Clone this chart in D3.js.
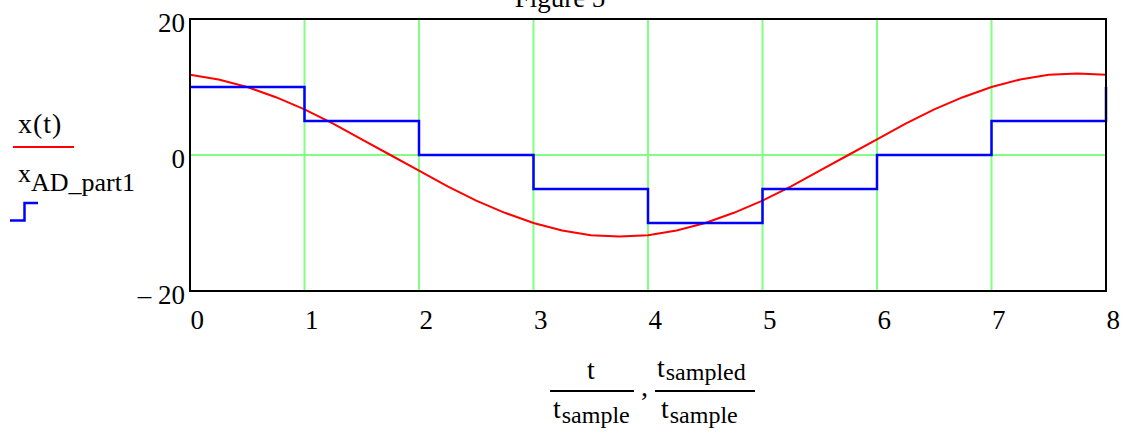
<!DOCTYPE html>
<html>
<head>
<meta charset="utf-8">
<script src="https://cdn.jsdelivr.net/npm/d3@7"></script>
<style>
	body { margin: 0; background: #fff; }
	svg { display: block; font-family: "Liberation Serif", "Times New Roman", serif; }
	.tick line { display: none; }
</style>
</head>
<body>
<div id="chart"></div>
<script>
// continuous signal x(t), every quarter sample
var tValues = [0, 0.25, 0.5, 0.75, 1, 1.25, 1.5, 1.75, 2, 2.25, 2.5, 2.75, 3, 3.25, 3.5, 3.75,
	4, 4.25, 4.5, 4.75, 5, 5.25, 5.5, 5.75, 6, 6.25, 6.5, 6.75, 7, 7.25, 7.5, 7.75, 8];
var xValues = [11.8, 11.1, 10.0, 8.5, 6.7, 4.6, 2.3, 0, -2.3, -4.6, -6.7, -8.5, -10.0, -11.1, -11.8, -12,
	-11.8, -11.1, -10.0, -8.5, -6.7, -4.6, -2.3, 0, 2.3, 4.6, 6.7, 8.5, 10.0, 11.1, 11.8, 12, 11.8];

// quantised samples x_AD_part1
var sampleT = [0, 1, 2, 3, 4, 5, 6, 7, 8];
var sampleValues = [10, 5, 0, -5, -10, -5, 0, 5, 10];

var xTicks = [0, 1, 2, 3, 4, 5, 6, 7, 8];
var yTicks = [-20, 0, 20];
var yTickLabels = ["\u2013 20", "0", "20"];
var gridX = [1, 2, 3, 4, 5, 6, 7];

var box = { width: 1131, height: 432, left: 190, right: 1106, top: 19, bottom: 291 };

var svg = d3.select("#chart").append("svg")
	.attr("width", box.width)
	.attr("height", box.height);

var mapX = d3.scaleLinear().domain([0, 8]).range([box.left, box.right]);
var mapY = d3.scaleLinear().domain([-20, 20]).range([box.bottom, box.top]);

// title, mostly cut off at the top edge (as in the original)
svg.append("text")
	.text("Figure 5")
	.attr("x", 560)
	.attr("y", 6.5)
	.attr("font-size", 27)
	.attr("text-anchor", "middle");

// grid lines
var grid = svg.append("g").attr("stroke", "#80ff80").attr("stroke-width", 2);
grid.selectAll("line.v").data(gridX).enter().append("line")
	.attr("x1", d => mapX(d)).attr("x2", d => mapX(d))
	.attr("y1", box.top).attr("y2", box.bottom);
grid.append("line")
	.attr("x1", box.left).attr("x2", box.right)
	.attr("y1", mapY(0)).attr("y2", mapY(0));

// axes: labels only, no tick marks
var yAxis = d3.axisLeft(mapY).tickValues(yTicks).tickSize(0).tickPadding(5)
	.tickFormat((d, i) => yTickLabels[i]);
svg.append("g")
	.attr("transform", `translate(${box.left}, 0)`)
	.call(yAxis)
	.attr("font-family", null)
	.call(g => g.select(".domain").remove())
	.call(g => g.selectAll("text")
		.attr("font-size", 27).attr("fill", "#000")
		.attr("dy", 12));

var xAxis = d3.axisBottom(mapX).tickValues(xTicks).tickSize(0).tickPadding(0);
svg.append("g")
	.attr("transform", `translate(0, ${box.bottom})`)
	.call(xAxis)
	.attr("font-family", null)
	.call(g => g.select(".domain").remove())
	.call(g => g.selectAll("text")
		.attr("font-size", 27).attr("fill", "#000")
		.attr("text-anchor", "start")
		.attr("y", 0).attr("dy", 38));

// red curve
var line = d3.line().x(d => mapX(d[0])).y(d => mapY(d[1]));
svg.append("path")
	.datum(tValues.map((t, i) => [t, xValues[i]]))
	.attr("d", line)
	.attr("fill", "none")
	.attr("stroke", "#ff0000")
	.attr("stroke-width", 2);

// blue staircase
var step = d3.line().x(d => mapX(d[0])).y(d => mapY(d[1])).curve(d3.curveStepAfter);
svg.append("path")
	.datum(sampleT.map((t, i) => [t, sampleValues[i]]))
	.attr("d", step)
	.attr("fill", "none")
	.attr("stroke", "#0000ff")
	.attr("stroke-width", 2.5);

// frame
svg.append("rect")
	.attr("x", box.left).attr("y", box.top)
	.attr("width", box.right - box.left).attr("height", box.bottom - box.top)
	.attr("fill", "none").attr("stroke", "#000").attr("stroke-width", 2);

// legend
var legend = svg.append("g");
legend.append("text").text("x(t)")
	.attr("x", 18).attr("y", 133).attr("font-size", 28).attr("letter-spacing", 1);
legend.append("line")
	.attr("x1", 13).attr("x2", 74).attr("y1", 147).attr("y2", 147)
	.attr("stroke", "#ff0000").attr("stroke-width", 2);
var lx = legend.append("text").attr("x", 18).attr("y", 182).attr("font-size", 26);
lx.append("tspan").text("x");
lx.append("tspan").text("AD_part1").attr("dy", 9).attr("font-size", 26);
legend.append("path")
	.attr("d", "M10,220.5H24.5V203H38")
	.attr("fill", "none").attr("stroke", "#0000ff").attr("stroke-width", 2.5);

// x axis label: t / t_sample , t_sampled / t_sample
var lab = svg.append("g").attr("font-size", 28);
lab.append("text").text("t").attr("x", 591).attr("y", 379).attr("text-anchor", "middle");
lab.append("line").attr("x1", 550).attr("x2", 634).attr("y1", 391).attr("y2", 391)
	.attr("stroke", "#000").attr("stroke-width", 2);
var d1 = lab.append("text").attr("x", 553).attr("y", 418);
d1.append("tspan").text("t");
d1.append("tspan").text("sample").attr("dy", 5).attr("dx", 1).attr("font-size", 24);

lab.append("text").text(",").attr("x", 641).attr("y", 396);

var n2 = lab.append("text").attr("x", 657).attr("y", 377);
n2.append("tspan").text("t");
n2.append("tspan").text("sampled").attr("dy", 3).attr("dx", 1).attr("font-size", 24);
lab.append("line").attr("x1", 655).attr("x2", 755).attr("y1", 391).attr("y2", 391)
	.attr("stroke", "#000").attr("stroke-width", 2);
var d2 = lab.append("text").attr("x", 661).attr("y", 418);
d2.append("tspan").text("t");
d2.append("tspan").text("sample").attr("dy", 5).attr("dx", 1).attr("font-size", 24);
</script>
</body>
</html>
